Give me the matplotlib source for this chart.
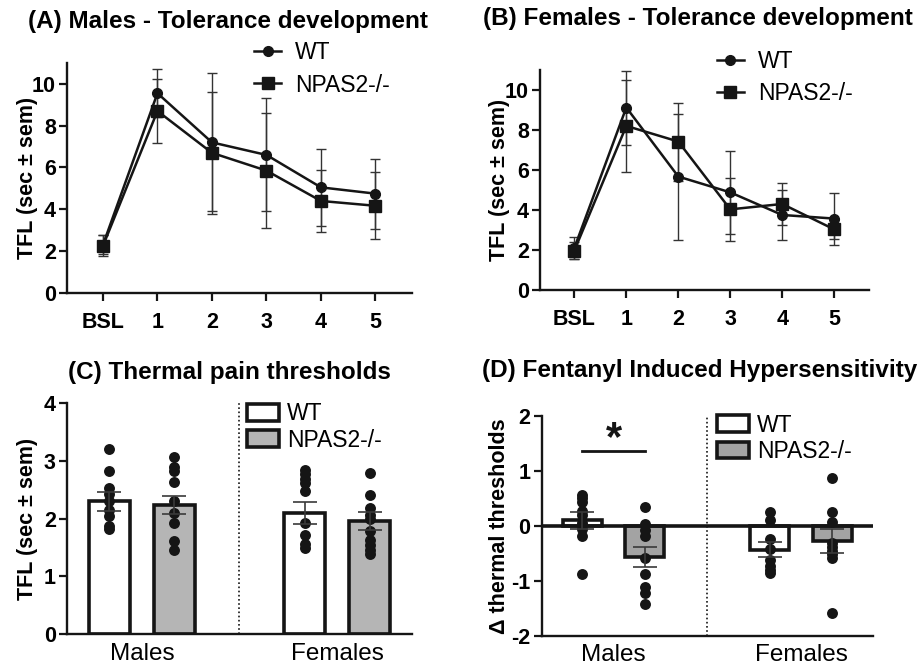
import numpy as np
import matplotlib
matplotlib.use("Agg")
import matplotlib.pyplot as plt
from matplotlib.patches import Patch

plt.rcParams['font.family'] = ['Liberation Sans', 'DejaVu Sans']
plt.rcParams['axes.unicode_minus'] = False

# ---- data ----
sessions = ['BSL', '1', '2', '3', '4', '5']
males_wt_mean = [2.3, 9.55, 7.2, 6.6, 5.05, 4.75]
males_wt_sem = [0.45, 1.15, 3.3, 2.7, 1.85, 1.68]
males_ko_mean = [2.25, 8.7, 6.7, 5.85, 4.4, 4.17]
males_ko_sem = [0.5, 1.55, 2.9, 2.75, 1.46, 1.6]

females_wt_mean = [2.1, 9.12, 5.67, 4.88, 3.75, 3.57]
females_wt_sem = [0.55, 1.85, 3.15, 2.08, 1.25, 1.3]
females_ko_mean = [1.97, 8.2, 7.42, 4.03, 4.3, 3.03]
females_ko_sem = [0.42, 2.3, 1.95, 1.58, 1.07, 0.5]

groups = ['Males', 'Females']
tfl_wt_mean = [2.3, 2.1]
tfl_wt_sem = [0.16, 0.19]
tfl_ko_mean = [2.24, 1.96]
tfl_ko_sem = [0.16, 0.15]
tfl_wt_males = [3.2, 2.82, 2.53, 2.42, 2.3, 2.15, 2.05, 1.88, 1.82]
tfl_ko_males = [3.06, 2.9, 2.82, 2.64, 2.3, 2.1, 1.93, 1.62, 1.46]
tfl_wt_females = [2.85, 2.77, 2.69, 2.62, 2.47, 1.93, 1.72, 1.57, 1.5]
tfl_ko_females = [2.79, 2.41, 2.18, 2.06, 2.0, 1.78, 1.63, 1.54, 1.46, 1.39]

delta_wt_mean = [0.1, -0.43]
delta_wt_sem = [0.15, 0.14]
delta_ko_mean = [-0.56, -0.27]
delta_ko_sem = [0.18, 0.22]
delta_wt_males = [0.57, 0.5, 0.44, 0.27, 0.2, 0.05, -0.05, -0.18, -0.88]
delta_ko_males = [0.35, 0.03, -0.07, -0.19, -0.59, -0.88, -1.11, -1.22, -1.41]
delta_wt_females = [0.26, 0.11, -0.24, -0.42, -0.62, -0.72, -0.8, -0.86]
delta_ko_females = [0.88, 0.25, 0.07, -0.31, -0.39, -0.45, -0.51, -0.59, -1.59]

INK = '#151515'
fig = plt.figure(figsize=(9.2, 6.67), dpi=100)


def style_axes(ax):
    for s in ['top', 'right']:
        ax.spines[s].set_visible(False)
    for s in ['left', 'bottom']:
        ax.spines[s].set_linewidth(1.7)
        ax.spines[s].set_color(INK)
    ax.tick_params(direction='out', length=6, width=1.6, color=INK, labelsize=15.5, pad=2)


def line_panel(rect, wt_m, wt_s, ko_m, ko_s, title, title_xy, leg_xy, lab_x):
    ax = fig.add_axes(rect)
    style_axes(ax)
    x = np.arange(len(sessions))
    ax.errorbar(x, wt_m, yerr=wt_s, fmt='none', ecolor='#333333', elinewidth=1, capsize=3.5, capthick=1)
    ax.errorbar(x, ko_m, yerr=ko_s, fmt='none', ecolor='#333333', elinewidth=1, capsize=3.5, capthick=1)
    ax.plot(x, wt_m, '-o', color=INK, lw=1.8, ms=7, label='WT')
    ax.plot(x, ko_m, '-s', color=INK, lw=1.8, ms=8, label='NPAS2-/-')
    ax.set_xlim(-0.66, 5.67)
    ax.set_ylim(0, 11)
    ax.set_yticks([0, 2, 4, 6, 8, 10])
    ax.set_yticklabels(['0', '2', '4', '6', '8', '10'], fontweight='bold')
    ax.set_xticks(x)
    ax.set_xticklabels(sessions, fontweight='bold')
    ax.tick_params(axis='x', pad=8)
    ax.set_ylabel('TFL (sec \u00b1 sem)', fontsize=15.5, fontweight='bold')
    ax.yaxis.set_label_coords(lab_x, 0.5)
    fig.text(title_xy[0], title_xy[1], title, fontsize=17.5, fontweight='bold',
             ha='center', va='center')
    ax.legend(loc='upper left', bbox_to_anchor=leg_xy, bbox_transform=fig.transFigure,
              frameon=False, fontsize=16.5, handlelength=1.2, handletextpad=0.6,
              borderpad=0, borderaxespad=0, labelspacing=0.4)
    return ax


def bar_panel(rect, wt_m, wt_s, ko_m, ko_s, pts, ylim, yticks, ko_color, title, title_xy,
              leg_xy, ylabel, lab_x):
    ax = fig.add_axes(rect)
    style_axes(ax)
    for g in range(len(groups)):
        xw, xk = 3 * g, 3 * g + 1
        ax.bar(xw, wt_m[g], width=0.63, color='white', edgecolor=INK, linewidth=2.6, zorder=2)
        ax.bar(xk, ko_m[g], width=0.63, color=ko_color, edgecolor=INK, linewidth=2.6, zorder=2)
        ax.scatter([xw] * len(pts[g][0]), pts[g][0], s=62, color=INK, zorder=3, linewidths=0)
        ax.scatter([xk] * len(pts[g][1]), pts[g][1], s=62, color=INK, zorder=3, linewidths=0)
        ax.errorbar([xw, xk], [wt_m[g], ko_m[g]], yerr=[wt_s[g], ko_s[g]], fmt='none',
                    ecolor='#3a3a3a', elinewidth=1.2, capsize=8.5, capthick=1.2, zorder=4)
    ax.axvline(2, color=INK, lw=1.2, ls=(0, (1, 1.5)), zorder=1)
    ax.set_xlim(-0.65, 4.65)
    ax.set_ylim(*ylim)
    ax.set_yticks(yticks)
    ax.set_yticklabels([str(t) for t in yticks], fontweight='bold')
    ax.set_xticks([0.5, 3.5])
    ax.set_xticklabels(groups, fontsize=17.5)
    ax.tick_params(axis='x', length=0, pad=6)
    ax.set_ylabel(ylabel, fontsize=15.5, fontweight='bold')
    ax.yaxis.set_label_coords(lab_x, 0.5)
    fig.text(title_xy[0], title_xy[1], title, fontsize=17.5, fontweight='bold',
             ha='center', va='center')
    handles = [Patch(facecolor='white', edgecolor=INK, linewidth=2.6, label='WT'),
               Patch(facecolor=ko_color, edgecolor=INK, linewidth=2.6, label='NPAS2-/-')]
    ax.legend(handles=handles, loc='upper left', bbox_to_anchor=leg_xy,
              bbox_transform=fig.transFigure, frameon=False, fontsize=16.5,
              handlelength=1.4, handleheight=0.75, handletextpad=0.35,
              borderpad=0, borderaxespad=0, labelspacing=0.15)
    return ax


# (A) and (B) tolerance development
line_panel([0.0728, 0.5607, 0.375, 0.345], males_wt_mean, males_wt_sem,
           males_ko_mean, males_ko_sem, '(A) Males - Tolerance development',
           (0.248, 0.968), (0.276, 0.938), -0.084)
line_panel([0.587, 0.5652, 0.3576, 0.330], females_wt_mean, females_wt_sem,
           females_ko_mean, females_ko_sem, '(B) Females - Tolerance development',
           (0.759, 0.973), (0.779, 0.925), -0.09)

# (C) thermal pain thresholds
bar_panel([0.0728, 0.049, 0.375, 0.3468], tfl_wt_mean, tfl_wt_sem, tfl_ko_mean, tfl_ko_sem,
          [(tfl_wt_males, tfl_ko_males), (tfl_wt_females, tfl_ko_females)],
          (0, 4), [0, 1, 2, 3, 4], '#b5b5b5', '(C) Thermal pain thresholds',
          (0.249, 0.441), (0.2685, 0.397), 'TFL (sec \u00b1 sem)', -0.084)

# (D) fentanyl induced hypersensitivity
axd = bar_panel([0.5888, 0.0465, 0.360, 0.330], delta_wt_mean, delta_wt_sem,
                delta_ko_mean, delta_ko_sem,
                [(delta_wt_males, delta_ko_males), (delta_wt_females, delta_ko_females)],
                (-2, 2), [-2, -1, 0, 1, 2], '#a3a3a3', '(D) Fentanyl Induced Hypersensitivity',
                (0.761, 0.445), (0.779, 0.380), '\u0394 thermal thresholds', -0.096)
axd.axhline(0, color=INK, lw=2.6, zorder=2.5)
axd.plot([0, 1], [1.36, 1.36], color=INK, lw=2)
axd.text(0.5, 1.58, '*', fontsize=30, fontweight='bold', ha='center', va='center', color=INK)

fig.savefig('out.png', dpi=100)
